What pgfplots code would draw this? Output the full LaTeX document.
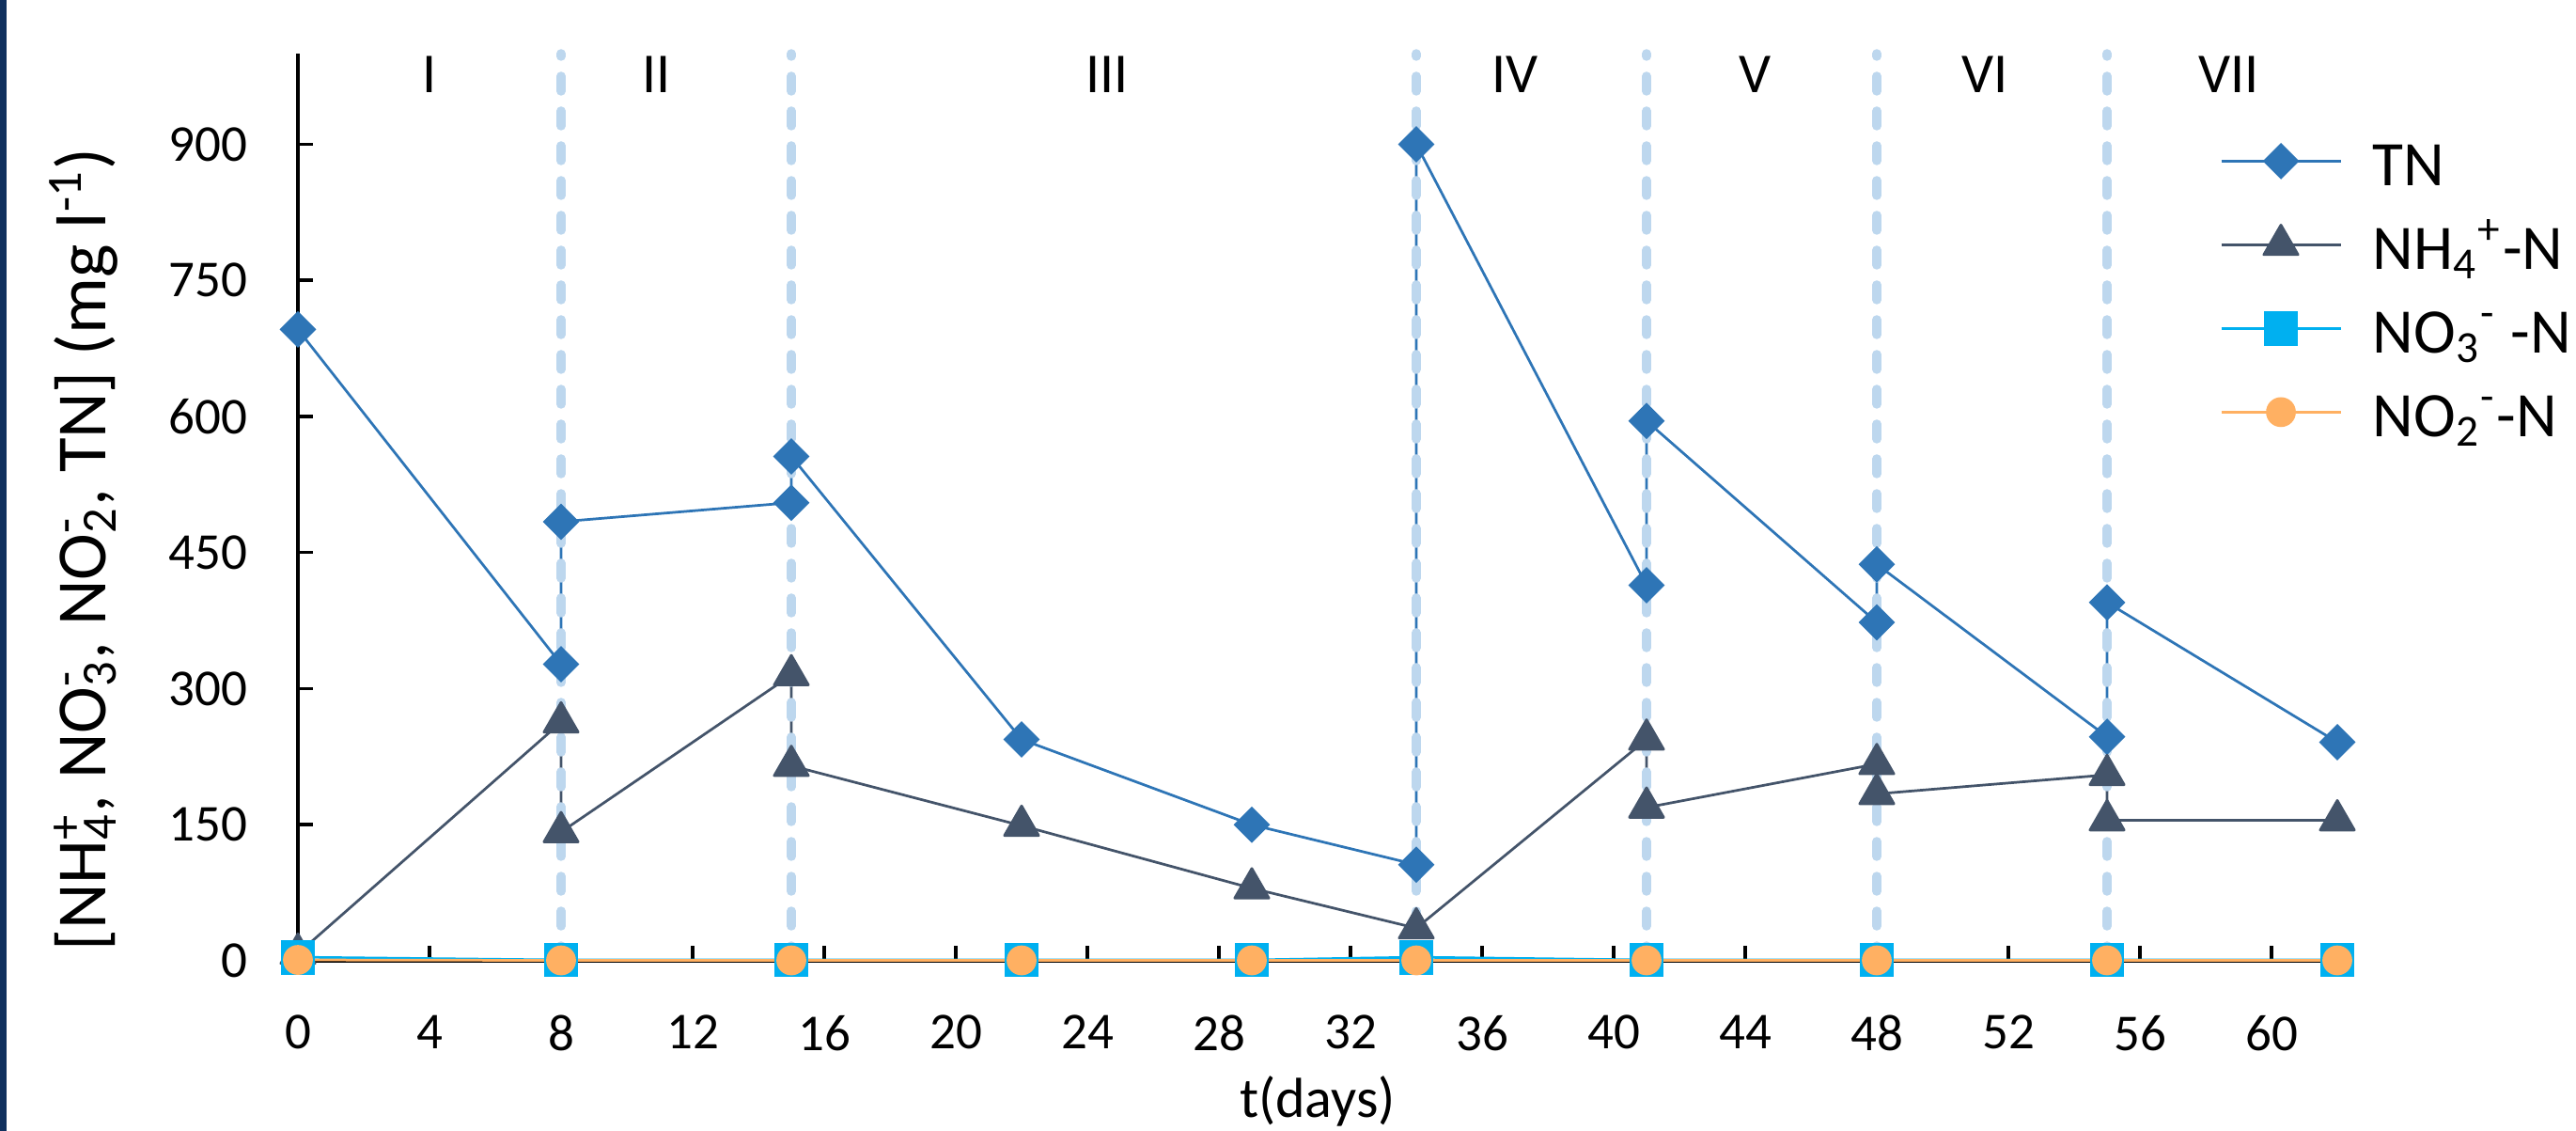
\documentclass[border=0pt]{standalone}
\usepackage{pgfplots}
\pgfplotsset{compat=1.18}
\usepackage{fontspec}
\setmainfont{Carlito}
\definecolor{cTN}{HTML}{2E75B6}
\definecolor{cNH}{HTML}{44546A}
\definecolor{cNOt}{HTML}{00B0F0}
\definecolor{cNOd}{HTML}{FFB062}
\definecolor{cDash}{HTML}{BDD7EE}
\definecolor{cBar}{HTML}{10305E}
\newcommand{\subsup}[2]{\begingroup\setbox0=\hbox{\textsubscript{#1}}\setbox2=\hbox{\textsuperscript{#2}}\ifdim\wd0>\wd2 \rlap{\box2}\box0\else\rlap{\box0}\box2\fi\endgroup}
\tikzset{roman/.style={anchor=north, inner sep=0pt, font=\fontsize{12}{14}\selectfont, yshift=-0.4pt}}
\begin{document}
\begin{tikzpicture}
\begin{axis}[
  scale only axis, width=434pt, height=193pt,
  xmin=0, xmax=62, ymin=0, ymax=1000,
  axis lines*=left,
  axis line style={black, line width=0.7pt},
  xtick={0,4,...,60}, ytick={0,150,...,900},
  tick align=inside, major tick length=3.1pt,
  tick style={black, line width=0.7pt},
  /pgf/number format/assume math mode=true,
  ticklabel style={font=\fontsize{11}{13}\selectfont, inner sep=0pt},
  xticklabel style={anchor=north, yshift=-11.4pt},
  yticklabel style={anchor=east, xshift=-10.6pt},
  clip=false,
  xlabel={t(days)},
  xlabel style={at={([yshift=-33.2pt]rel axis cs:0.5,0)}, anchor=base, inner sep=0pt, font=\fontsize{12}{14}\selectfont},
  ylabel={[NH\subsup{4}{+}, NO\subsup{3}{-}, NO\subsup{2}{-}, TN] (mg l\textsuperscript{-1})},
  ylabel style={at={([xshift=-40.8pt]rel axis cs:0,0.453)}, anchor=base, inner sep=0pt, font=\fontsize{15}{18}\selectfont},
  legend cell align=left,
  legend style={draw=none, fill=none, at={(rel axis cs:0.942,0.918)}, anchor=north west,
    inner sep=0pt, row sep=4.1pt, column sep=6.6pt, font=\fontsize{13.5}{16}\selectfont,
    nodes={inner sep=0pt, text height=12pt, text depth=1.7pt}},
  legend image code/.code={\draw[mark repeat=2,mark phase=2] plot coordinates {(0pt,0pt)(12.7pt,0pt)(25.4pt,0pt)};},
]
\addplot[cTN, line width=0.55pt, mark=square*, mark size=2.47pt, mark options={solid, rotate=45, fill=cTN, draw=cTN}]
  coordinates {(0,696)(8,327)(8,484)(15,505)(15,556)(22,244)(29,150)(34,106)(34,900)(41,414)(41,595)(48,373)(48,437)(55,247)(55,395)(62,241)};
\addlegendentry{TN}
\addplot[cNH, line width=0.55pt, mark=triangle*, mark size=4.2pt, mark options={solid, fill=cNH, draw=cNH, line join=round}]
  coordinates {(0,8)(8,263)(8,142)(15,315)(15,215)(22,149)(29,80)(34,36)(41,244)(41,169)(48,217)(48,184)(55,205)(55,155)(62,155)};
\addlegendentry{NH\textsubscript{4}\textsuperscript{+}-N}
\addplot[cNOt, line width=0.55pt, mark=square*, mark size=3.4pt, mark options={solid, fill=cNOt, draw=cNOt}]
  coordinates {(0,4)(8,1)(15,1)(22,1)(29,1)(34,4)(41,1)(48,1)(55,1)(62,1)};
\addlegendentry{NO\textsubscript{3}\textsuperscript{-} -N}
\addplot[cNOd, line width=0.55pt, mark=*, mark size=2.9pt, mark options={solid, fill=cNOd, draw=cNOd}]
  coordinates {(0,1)(8,0.5)(15,0.5)(22,0.5)(29,0.5)(34,0.5)(41,0.5)(48,0.5)(55,0.5)(62,0.5)};
\addlegendentry{NO\textsubscript{2}\textsuperscript{-}-N}
\pgfplotsinvokeforeach{8,15,34,41,48,55}{
  \addplot[cDash, line width=1.9pt, line cap=round, dash pattern=on 3.2pt off 4.2pt, forget plot] coordinates {(#1,0)(#1,1000)};
}
\node[roman] at (axis cs:4,1000) {I};
\node[roman] at (axis cs:10.9,1000) {II};
\node[roman] at (axis cs:24.6,1000) {III};
\node[roman] at (axis cs:37.0,1000) {IV};
\node[roman] at (axis cs:44.3,1000) {V};
\node[roman] at (axis cs:51.3,1000) {VI};
\node[roman] at (axis cs:58.7,1000) {VII};
\coordinate (O) at (rel axis cs:0,0);
\end{axis}
\pgfresetboundingbox
\path ([xshift=-63.4pt, yshift=-36.2pt]O) rectangle ++(548.2pt,240.6pt);
\fill[cBar] ([xshift=-63.4pt, yshift=-36.2pt]O) rectangle ++(1.4pt,240.6pt);
\end{tikzpicture}
\end{document}
